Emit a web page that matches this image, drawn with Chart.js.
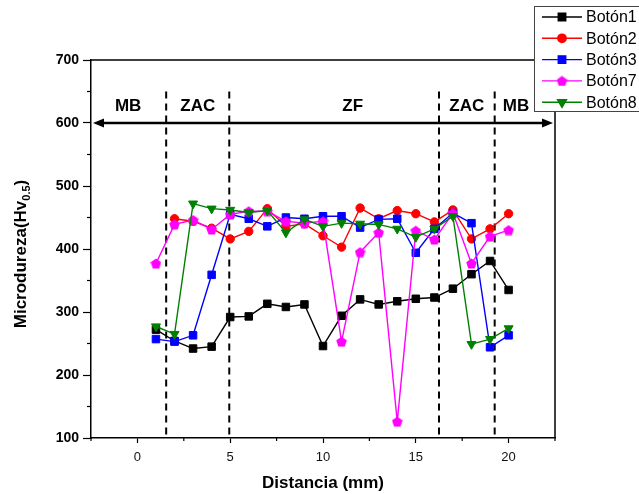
<!DOCTYPE html>
<html>
<head>
<meta charset="utf-8">
<title>Microdureza vs distancia</title>
<script src="https://cdn.jsdelivr.net/npm/chart.js@4.4.1/dist/chart.umd.min.js"></script>
<style>
  html, body { margin: 0; padding: 0; background: #fff; }
  #chart { display: block; }
</style>
</head>
<body>
<canvas id="chart" width="639" height="494"></canvas>
<script>
// Data
const distances = [1, 2, 3, 4, 5, 6, 7, 8, 9, 10, 11, 12, 13, 14, 15, 16, 17, 18, 19, 20];
const boton1 = [272, 254, 242, 245, 292, 293, 313, 308, 312, 246, 294, 320, 312, 317, 321, 323, 337, 360, 381, 335];
const boton2 = [null, 448, 444, 433, 416, 428, 464, 436, 440, 421, 403, 465, 448, 461, 456, 443, 462, 416, 432, 456];
const boton3 = [257, 253, 263, 359, 455, 448, 436, 450, 448, 452, 452, 434, 447, 448, 394, 432, 457, 441, 244, 263];
const boton7 = [377, 439, 446, 431, 455, 460, 460, 444, 441, 444, 253, 395, 426, 126, 429, 415, 457, 377, 420, 430];
const boton8 = [277, 265, 472, 464, 462, 458, 461, 426, 447, 436, 441, 440, 439, 432, 419, 432, 452, 249, 257, 274];

// Zones along the weld
const zoneBounds = [1.55, 4.95, 16.25, 19.25];
const zoneNames = ['MB', 'ZAC', 'ZF', 'ZAC', 'MB'];
const zoneLabelX = [-0.5, 3.25, 11.6, 17.75, 20.4];
const zoneLabelLevel = 627;
const arrowLevel = 600;
const dashTop = 650;

// Axis ranges and ticks
const xRange = [-2.5, 22.5];
const yRange = [100, 700];
const xMajorTicks = [0, 5, 10, 15, 20];
const xMinorTicks = [-2.5, 2.5, 7.5, 12.5, 17.5, 22.5];
const yMinorTicks = [150, 250, 350, 450, 550, 650];

const FONT = "'Liberation Sans', Arial, sans-serif";

// Pentagon marker for Botón7
function pentagonMarker(size, color) {
    const c = document.createElement('canvas');
    c.width = size;
    c.height = size;
    const g = c.getContext('2d');
    const r = size / 2;
    g.fillStyle = color;
    g.beginPath();
    for (let i = 0; i < 5; i++) {
        const a = -Math.PI / 2 + i * 2 * Math.PI / 5;
        const px = r + r * Math.cos(a);
        const py = r * 1.1 + r * Math.sin(a);
        if (i === 0) g.moveTo(px, py); else g.lineTo(px, py);
    }
    g.closePath();
    g.fill();
    return c;
}

function makeSet(label, values, color, style, radius, order, rotation) {
    return {
        label: label,
        order: order,
        data: distances.map((d, i) => ({ x: d, y: values[i] })).filter(p => p.y !== null),
        borderColor: color,
        backgroundColor: color,
        borderWidth: 1.4,
        tension: 0,
        pointStyle: style,
        pointRadius: radius,
        pointRotation: rotation || 0,
        pointBorderWidth: 1,
        pointBackgroundColor: color,
        pointBorderColor: color
    };
}

const datasets = [
    makeSet('Botón1', boton1, '#000000', 'rect', 5.3, 5),
    makeSet('Botón2', boton2, '#ff0000', 'circle', 4.2, 4),
    makeSet('Botón3', boton3, '#0000ff', 'rect', 5.3, 3),
    makeSet('Botón7', boton7, '#ff00ff', pentagonMarker(11, '#ff00ff'), 5, 2),
    makeSet('Botón8', boton8, '#008000', 'triangle', 5.2, 1, 180)
];

// Zones, frame, minor ticks, y title and legend
const decorPlugin = {
    id: 'decor',
    beforeDatasetsDraw(chart) {
        const { ctx, chartArea: area, scales: { x, y } } = chart;
        ctx.save();

        // top and right frame
        ctx.strokeStyle = '#000';
        ctx.lineWidth = 1.5;
        ctx.beginPath();
        ctx.moveTo(area.left, area.top);
        ctx.lineTo(area.right, area.top);
        ctx.lineTo(area.right, area.bottom);
        ctx.stroke();

        // minor ticks
        ctx.lineWidth = 1.2;
        yMinorTicks.forEach(v => {
            const py = y.getPixelForValue(v);
            ctx.beginPath();
            ctx.moveTo(area.left - 4, py);
            ctx.lineTo(area.left, py);
            ctx.stroke();
        });
        xMinorTicks.forEach(v => {
            const px = x.getPixelForValue(v);
            ctx.beginPath();
            ctx.moveTo(px, area.bottom);
            ctx.lineTo(px, area.bottom + 3);
            ctx.stroke();
        });

        // dashed zone boundaries
        ctx.lineWidth = 2;
        ctx.setLineDash([7, 5]);
        zoneBounds.forEach(v => {
            const px = x.getPixelForValue(v);
            ctx.beginPath();
            ctx.moveTo(px, y.getPixelForValue(dashTop));
            ctx.lineTo(px, area.bottom);
            ctx.stroke();
        });
        ctx.setLineDash([]);

        // double arrow
        const ay = y.getPixelForValue(arrowLevel);
        const x0 = x.getPixelForValue(xRange[0]) + 2;
        const x1 = x.getPixelForValue(xRange[1]) - 2;
        ctx.lineWidth = 2.5;
        ctx.beginPath();
        ctx.moveTo(x0 + 6, ay);
        ctx.lineTo(x1 - 6, ay);
        ctx.stroke();
        ctx.fillStyle = '#000';
        ctx.beginPath();
        ctx.moveTo(x0, ay);
        ctx.lineTo(x0 + 11, ay - 4.5);
        ctx.lineTo(x0 + 11, ay + 4.5);
        ctx.closePath();
        ctx.fill();
        ctx.beginPath();
        ctx.moveTo(x1, ay);
        ctx.lineTo(x1 - 11, ay - 4.5);
        ctx.lineTo(x1 - 11, ay + 4.5);
        ctx.closePath();
        ctx.fill();

        // zone names
        ctx.font = 'bold 17px ' + FONT;
        ctx.textAlign = 'center';
        ctx.textBaseline = 'middle';
        zoneNames.forEach((name, i) => {
            ctx.fillText(name, x.getPixelForValue(zoneLabelX[i]), y.getPixelForValue(zoneLabelLevel));
        });

        ctx.restore();
    },
    afterDraw(chart) {
        const { ctx } = chart;
        ctx.save();

        // y axis title with subscript
        const main = 'Microdureza(Hv';
        const sub = '0.5';
        const close = ')';
        ctx.font = 'bold 17px ' + FONT;
        const wMain = ctx.measureText(main).width;
        const wClose = ctx.measureText(close).width;
        ctx.font = 'bold 11px ' + FONT;
        const wSub = ctx.measureText(sub).width;
        const total = wMain + wSub + wClose;
        ctx.translate(26, 254);
        ctx.rotate(-Math.PI / 2);
        ctx.fillStyle = '#000';
        ctx.textAlign = 'left';
        ctx.textBaseline = 'alphabetic';
        let cx = -total / 2;
        ctx.font = 'bold 17px ' + FONT;
        ctx.fillText(main, cx, 0);
        cx += wMain;
        ctx.font = 'bold 11px ' + FONT;
        ctx.fillText(sub, cx, 4);
        cx += wSub;
        ctx.font = 'bold 17px ' + FONT;
        ctx.fillText(close, cx, 0);
        ctx.setTransform(1, 0, 0, 1, 0, 0);

        // legend box
        ctx.fillStyle = '#fff';
        ctx.fillRect(534, 6, 110, 106);
        ctx.strokeStyle = '#444';
        ctx.lineWidth = 1;
        ctx.strokeRect(534.5, 6.5, 110, 105);

        chart.data.datasets.forEach((ds, i) => {
            const ry = 17 + i * 21.3;
            ctx.strokeStyle = ds.borderColor;
            ctx.fillStyle = ds.borderColor;
            ctx.lineWidth = 1.4;
            ctx.beginPath();
            ctx.moveTo(542, ry);
            ctx.lineTo(582, ry);
            ctx.stroke();
            Chart.helpers.drawPoint(ctx, {
                pointStyle: ds.pointStyle,
                rotation: ds.pointRotation,
                radius: ds.pointRadius,
                borderWidth: 1
            }, 562, ry);
            ctx.fillStyle = '#000';
            ctx.font = '16px ' + FONT;
            ctx.textAlign = 'left';
            ctx.textBaseline = 'middle';
            ctx.fillText(ds.label, 586, ry + 1);
        });

        ctx.restore();
    }
};

const chart = new Chart(document.getElementById('chart'), {
    type: 'line',
    data: { datasets: datasets },
    plugins: [decorPlugin],
    options: {
        responsive: false,
        animation: false,
        layout: { padding: { top: 60, right: 84, left: 0, bottom: 0 } },
        plugins: {
            legend: { display: false },
            tooltip: { enabled: false }
        },
        scales: {
            x: {
                type: 'linear',
                min: xRange[0],
                max: xRange[1],
                afterBuildTicks(scale) {
                    scale.ticks = xMajorTicks.map(v => ({ value: v }));
                },
                ticks: {
                    color: '#111',
                    padding: 7,
                    font: { family: FONT, size: 13 }
                },
                grid: { drawOnChartArea: false, tickLength: 5, tickColor: '#000', tickWidth: 1.2 },
                border: { color: '#000', width: 1.5 },
                title: {
                    display: true,
                    text: 'Distancia (mm)',
                    color: '#000',
                    font: { family: FONT, size: 17, weight: 'bold' },
                    padding: { top: 0, bottom: 0 }
                },
                afterFit(scale) { scale.height = 56; }
            },
            y: {
                min: yRange[0],
                max: yRange[1],
                ticks: {
                    stepSize: 100,
                    color: '#000',
                    padding: 4,
                    font: { family: FONT, size: 14, weight: 'bold' }
                },
                grid: { drawOnChartArea: false, tickLength: 8, tickColor: '#000', tickWidth: 1.2 },
                border: { color: '#000', width: 1.5 },
                afterFit(scale) { scale.width = 91; }
            }
        }
    }
});
</script>
</body>
</html>
